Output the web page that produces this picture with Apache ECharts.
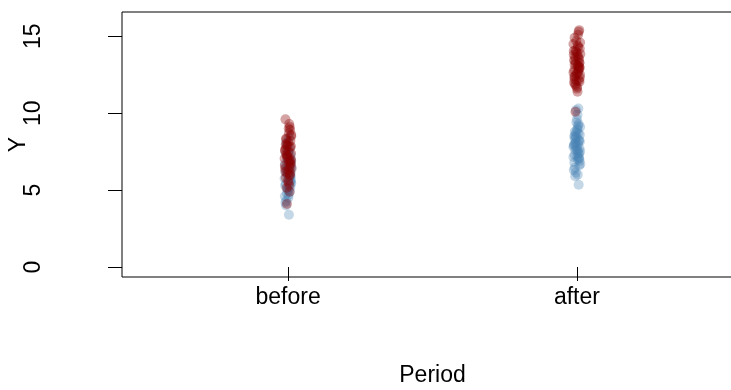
<!DOCTYPE html>
<html>
<head>
<meta charset="utf-8">
<script src="https://cdn.jsdelivr.net/npm/echarts@6/dist/echarts.min.js"></script>
<style>
html,body{margin:0;padding:0;background:#fff;}
#chart{width:731px;height:390px;}
</style>
</head>
<body>
<div id="chart"></div>
<script>
var categories = ['before', 'after'];
var yTicks = [0, 5, 10, 15];

var beforeBlueY = [6.1, 5.4, 3.4, 6.8, 5.9, 4.6, 7.2, 6.3, 5.0, 6.6, 4.0, 5.7, 7.9, 6.0, 5.3, 6.4, 4.8, 7.0, 5.6, 6.2, 8.4, 5.1, 6.9, 4.3, 5.8, 7.4, 6.5, 5.5, 6.0, 7.7, 4.5, 6.7, 5.2, 7.1, 6.3, 8.1, 5.65, 6.15, 7.5, 6.85, 4.9, 5.75, 6.35, 4.2, 5.45, 6.55, 5.05, 7.3, 4.7, 5.85];
var beforeBlueJitter = [0.004, -0.008, 0.003, -0.002, 0.009, -0.011, 0.006, -0.005, 0.001, 0.010, -0.007, 0.002, -0.003, 0.008, -0.010, 0.005, -0.004, 0.000, 0.007, -0.009, 0.003, -0.001, 0.011, -0.006, 0.004, -0.008, 0.002, 0.009, -0.003, 0.006, 0.001, -0.011, 0.008, -0.002, 0.005, -0.007, 0.010, -0.004, 0.000, 0.007, 0.006, -0.012, 0.012, -0.009, 0.011, -0.006, -0.003, 0.009, 0.002, 0.005];

var beforeRedY = [7.3, 8.2, 6.1, 9.6, 5.3, 7.0, 6.6, 8.7, 4.1, 7.8, 6.3, 9.1, 5.8, 7.5, 6.9, 8.0, 4.9, 7.2, 6.4, 8.5, 5.6, 7.7, 6.0, 9.3, 7.1, 6.7, 8.3, 5.5, 7.4, 6.2, 8.9, 6.8, 7.9, 6.5, 7.6, 8.1, 6.75, 7.25, 5.95, 7.95, 8.6, 7.05, 6.45, 8.35, 7.55, 6.15, 9.0, 7.85, 5.15, 6.95];
var beforeRedJitter = [-0.006, 0.008, -0.002, -0.009, 0.004, 0.010, -0.011, 0.003, -0.004, 0.007, 0.001, 0.006, -0.008, 0.002, 0.009, -0.005, 0.005, -0.001, -0.010, 0.011, 0.000, -0.007, 0.006, 0.004, -0.003, 0.008, -0.006, 0.002, 0.010, -0.009, 0.007, 0.003, -0.002, 0.005, -0.011, 0.001, 0.009, -0.004, 0.006, -0.008, 0.011, -0.012, 0.012, -0.007, -0.010, 0.008, 0.002, 0.010, -0.005, 0.004];

var afterBlueY = [8.1, 7.4, 9.0, 6.8, 8.6, 10.3, 7.0, 8.3, 5.35, 7.7, 9.4, 6.3, 8.0, 7.2, 10.2, 8.8, 5.9, 7.5, 8.4, 6.6, 9.6, 7.9, 8.2, 6.0, 7.3, 8.7, 9.9, 7.6, 6.9, 8.5, 7.1, 9.2, 7.8, 8.9, 6.45, 7.05, 7.55, 7.85, 8.15, 8.45, 7.35, 8.05, 7.65, 9.1, 8.75, 6.7, 7.95, 8.25, 7.15, 9.3, 6.15, 8.55];
var afterBlueJitter = [-0.004, 0.007, 0.002, -0.009, 0.010, 0.005, 0.003, -0.006, 0.006, 0.009, -0.002, -0.011, 0.004, 0.001, -0.003, -0.007, -0.006, 0.011, -0.001, 0.008, 0.000, -0.010, 0.006, 0.003, -0.008, 0.005, 0.002, -0.005, 0.009, -0.004, 0.007, 0.004, -0.012, 0.001, -0.007, 0.008, 0.003, -0.002, 0.010, -0.009, 0.005, -0.006, 0.000, 0.011, -0.003, 0.012, -0.010, 0.008, -0.012, 0.006, -0.004, -0.008];

var afterRedY = [13.1, 12.4, 14.2, 11.8, 13.6, 15.4, 12.0, 13.9, 12.7, 14.7, 10.1, 13.3, 12.2, 15.1, 11.4, 13.8, 12.9, 14.0, 12.5, 13.4, 11.6, 14.3, 12.8, 13.0, 15.3, 12.1, 13.7, 11.9, 14.5, 12.3, 13.2, 14.9, 12.6, 13.5, 14.1, 12.05, 12.55, 13.05, 13.45, 11.7, 12.85, 13.65, 14.4, 12.35, 13.25, 13.85, 12.65, 14.6, 13.15, 12.95, 14.05, 12.15];
var afterRedJitter = [0.003, -0.007, 0.010, -0.004, 0.006, 0.008, -0.010, 0.001, 0.005, -0.002, -0.005, 0.009, -0.008, 0.004, 0.002, -0.011, 0.007, -0.003, 0.011, -0.006, 0.000, 0.004, -0.009, 0.008, 0.006, -0.001, 0.003, -0.007, -0.012, 0.010, -0.004, -0.008, 0.002, 0.007, -0.005, 0.009, -0.002, 0.005, -0.010, 0.001, 0.006, -0.006, 0.003, -0.009, 0.008, 0.012, -0.012, 0.011, -0.008, 0.010, -0.011, 0.007];

function pts(pos, ys, jit) {
  return ys.map(function (v, i) { return [pos + jit[i], v]; });
}

var blueData = pts(1, beforeBlueY, beforeBlueJitter).concat(pts(2, afterBlueY, afterBlueJitter));
var redData = pts(1, beforeRedY, beforeRedJitter).concat(pts(2, afterRedY, afterRedJitter));

var FONT = '"Liberation Sans", Arial, sans-serif';
var chart = echarts.init(document.getElementById('chart'), null, {renderer: 'canvas'});
chart.setOption({
  animation: false,
  backgroundColor: '#fff',
  grid: {left: 122, top: 12, right: -12, bottom: 113, outerBoundsMode: 'none', containLabel: false,
    show: true, borderColor: '#000', borderWidth: 1, backgroundColor: 'transparent'},
  xAxis: {
    type: 'value', min: 0.425, max: 2.575,
    axisLine: {show: false},
    splitLine: {show: false},
    axisTick: {show: true, length: 14, customValues: [1, 2], lineStyle: {color: '#000', width: 1}},
    axisLabel: {customValues: [1, 2], margin: 9, color: '#000', fontSize: 23, fontFamily: FONT,
      formatter: function (v) { return categories[Math.round(v) - 1]; }},
    name: 'Period', nameLocation: 'middle', nameGap: 87, nameMoveOverlap: false,
    nameTextStyle: {color: '#000', fontSize: 23, fontFamily: FONT}
  },
  yAxis: {
    type: 'value', min: -0.65, max: 16.58,
    axisLine: {show: false},
    splitLine: {show: false},
    axisTick: {show: true, length: 14, customValues: yTicks, lineStyle: {color: '#000', width: 1}},
    axisLabel: {customValues: yTicks, rotate: 90, margin: 77, color: '#000', fontSize: 23, fontFamily: FONT},
    name: 'Y', nameLocation: 'middle', nameGap: 92, nameMoveOverlap: false,
    nameTextStyle: {color: '#000', fontSize: 23, fontFamily: FONT}
  },
  series: [
    {type: 'scatter', data: blueData, symbol: 'circle', symbolSize: 10,
     itemStyle: {color: 'rgba(70,130,180,0.4)'}, silent: true},
    {type: 'scatter', data: redData, symbol: 'circle', symbolSize: 10,
     itemStyle: {color: 'rgba(139,0,0,0.45)'}, silent: true}
  ]
});
</script>
</body>
</html>
